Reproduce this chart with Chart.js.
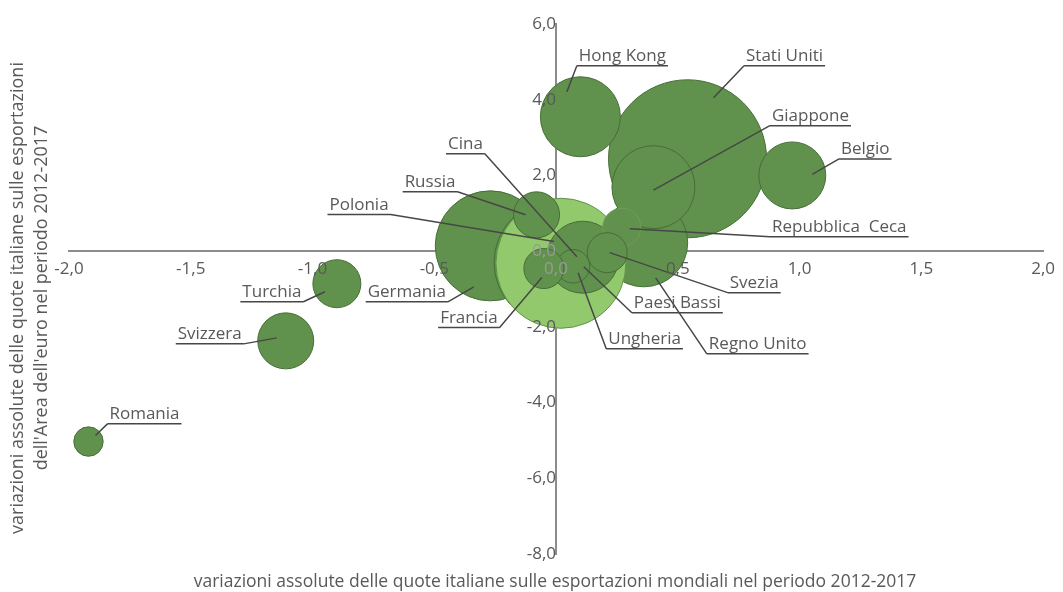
<!DOCTYPE html>
<html>
<head>
<meta charset="utf-8">
<script src="https://cdn.jsdelivr.net/npm/chart.js@4.4.1/dist/chart.umd.min.js"></script>
<style>
  html, body { margin: 0; padding: 0; background: #fff; }
</style>
</head>
<body>
<canvas id="chart" width="1063" height="592"></canvas>
<script>
// countries in drawing order (first = bottom)
const countries = ['Stati Uniti', 'Hong Kong', 'Regno Unito', 'Giappone', 'Belgio', 'Germania', 'Polonia', 'Cina',
  'Paesi Bassi', 'Repubblica  Ceca', 'Svezia', 'Ungheria', 'Francia', 'Russia', 'Turchia', 'Svizzera', 'Romania'];
// world share change 2012-2017
const worldShare = [0.54, 0.10, 0.36, 0.40, 0.97, -0.27, 0.00, 0.02,
  0.11, 0.27, 0.21, 0.07, -0.05, -0.08, -0.90, -1.11, -1.92];
// euro area share change 2012-2017
const euroShare = [2.44, 3.55, 0.22, 1.69, 2.00, 0.14, -0.30, -0.32,
  -0.16, 0.63, -0.04, -0.40, -0.46, 0.96, -0.86, -2.37, -5.03];
// bubble size
const bubbleSize = [79, 40, 44, 41.5, 33.5, 55, 62, 65,
  36, 19, 20, 16.7, 20, 23, 24, 28, 14.7];

const xTicks = [-2, -1.5, -1, -0.5, 0, 0.5, 1, 1.5, 2];
const yTicks = [-8, -6, -4, -2, 0, 2, 4, 6];

const xTitle = 'variazioni assolute delle quote italiane sulle esportazioni mondiali nel periodo 2012-2017';
const yTitle = ['variazioni assolute delle quote italiane sulle esportazioni', "dell'Area dell'euro nel periodo 2012-2017"];

// label placement, pixel offsets from the bubble centre: tip of leader, centre of underline
const labelPos = {
  'Hong Kong': { tip: [-13.5, -25], at: [42, -51] },
  'Stati Uniti': { tip: [26, -61], at: [97, -93] },
  'Giappone': { tip: [0, 3], at: [157, -61.5] },
  'Belgio': { tip: [20, -1], at: [73, -16.5] },
  'Cina': { tip: [16, -6.5], at: [-95.5, -109.5] },
  'Russia': { tip: [-11, 0], at: [-106.5, -23] },
  'Polonia': { tip: [-2, -21], at: [-197, -48] },
  'Repubblica  Ceca': { tip: [8, 1.5], at: [217.5, 9.5] },
  'Germania': { tip: [-16.5, 41], at: [-83.5, 56] },
  'Turchia': { tip: [-12, 8], at: [-65, 18] },
  'Svizzera': { tip: [-9, -3], at: [-76, 3] },
  'Francia': { tip: [-2, 9], at: [-75, 59] },
  'Romania': { tip: [7, -6], at: [56, -17.7] },
  'Svezia': { tip: [2.5, 0], at: [147, 40] },
  'Paesi Bassi': { tip: [1, 9.5], at: [94.5, 55.5] },
  'Ungheria': { tip: [5, 6.5], at: [71.5, 82.5] },
  'Regno Unito': { tip: [12, 35], at: [114, 111] }
};

const DARK = '#60924d';
const LIGHT = '#92c96c';
const TEXT = '#595959';
const FONT = "'Open Sans', 'DejaVu Sans', sans-serif";

const fmt = v => Number(v).toFixed(1).replace('.', ',');

// the bubbles may overflow the plot area, as in the original; don't reserve room for them
Chart.BubbleController.prototype.getMaxOverflow = function () { return false; };

const points = countries.map((c, i) => ({ x: worldShare[i], y: euroShare[i], r: bubbleSize[i] }));

const leaderLabels = {
  id: 'leaderLabels',
  afterDatasetsDraw(chart) {
    const ctx = chart.ctx;
    const meta = chart.getDatasetMeta(0);
    ctx.save();
    ctx.font = '17px ' + FONT;
    ctx.lineWidth = 1.5;
    ctx.strokeStyle = '#474747';
    ctx.fillStyle = TEXT;
    ctx.textAlign = 'center';
    ctx.textBaseline = 'alphabetic';
    meta.data.forEach((el, i) => {
      const name = countries[i];
      const lp = labelPos[name];
      if (!lp) return;
      const tx = el.x + lp.tip[0], ty = el.y + lp.tip[1];
      const cx = el.x + lp.at[0], cy = el.y + lp.at[1];
      const w = ctx.measureText(name).width + 4;
      const x1 = cx - w / 2, x2 = cx + w / 2;
      const ax = (tx < cx) ? x1 : x2;
      ctx.beginPath();
      ctx.moveTo(x1, cy);
      ctx.lineTo(x2, cy);
      ctx.moveTo(ax, cy);
      ctx.lineTo(tx, ty);
      ctx.stroke();
      ctx.fillText(name, cx, cy - 5);
    });
    ctx.restore();
  },
  afterDraw(chart) {
    const ctx = chart.ctx;
    ctx.save();
    ctx.fillStyle = TEXT;
    ctx.textAlign = 'center';
    ctx.textBaseline = 'middle';
    ctx.font = '17.5px ' + FONT;
    ctx.fillText(xTitle, 555, 582);
    ctx.font = '18px ' + FONT;
    ctx.translate(30, 298);
    ctx.rotate(-Math.PI / 2);
    ctx.fillText(yTitle[0], 0, -12);
    ctx.fillText(yTitle[1], 0, 12);
    ctx.restore();
  }
};

const ctx = document.getElementById('chart').getContext('2d');

new Chart(ctx, {
  type: 'bubble',
  data: {
    datasets: [{
      data: points,
      backgroundColor: countries.map(c => c === 'Cina' ? LIGHT : DARK),
      borderColor: countries.map(c => c === 'Cina' ? '#5f9448' : (c === 'Repubblica  Ceca' ? '#6f9d5b' : '#466d36')),
      borderWidth: 1,
      hoverRadius: 0
    }]
  },
  options: {
    responsive: false,
    devicePixelRatio: 1,
    animation: false,
    events: [],
    layout: { padding: { left: 69, right: 16, top: 24, bottom: 38 } },
    plugins: {
      legend: { display: false },
      tooltip: { enabled: false }
    },
    scales: {
      x: {
        type: 'linear',
        min: -2,
        max: 2,
        position: { y: 0 },
        grid: { display: false, drawTicks: false },
        border: { display: true, color: '#8c8c8c', width: 2 },
        afterBuildTicks: s => { s.ticks = xTicks.map(v => ({ value: v })); },
        ticks: {
          z: 1,
          padding: 8,
          color: c => c.tick && c.tick.value === 0 ? '#9a9a9a' : TEXT,
          font: { family: FONT, size: 17 },
          callback: v => fmt(v),
          maxRotation: 0,
          autoSkip: false
        }
      },
      y: {
        type: 'linear',
        min: -8,
        max: 6,
        position: { x: 0 },
        grid: { display: false, drawTicks: false },
        border: { display: true, color: '#8c8c8c', width: 2 },
        afterBuildTicks: s => { s.ticks = yTicks.map(v => ({ value: v })); },
        ticks: {
          z: 1,
          padding: 8,
          color: c => c.tick && c.tick.value === 0 ? '#9a9a9a' : TEXT,
          font: { family: FONT, size: 17 },
          callback: v => fmt(v),
          autoSkip: false
        }
      }
    }
  },
  plugins: [leaderLabels]
});
</script>
</body>
</html>
